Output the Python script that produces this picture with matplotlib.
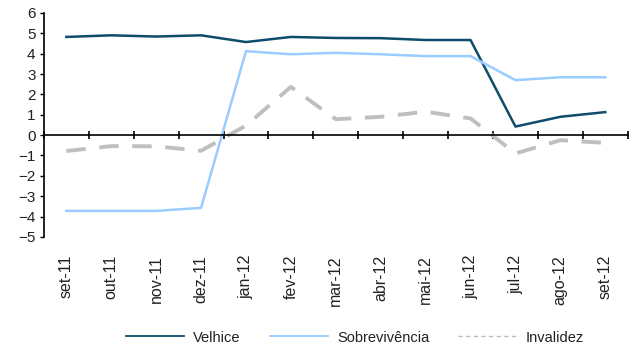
import matplotlib
matplotlib.use("Agg")
import matplotlib.pyplot as plt
import numpy as np

plt.rcParams['font.family'] = ['Liberation Sans', 'DejaVu Sans']

categories = ["set-11", "out-11", "nov-11", "dez-11", "jan-12", "fev-12", "mar-12",
              "abr-12", "mai-12", "jun-12", "jul-12", "ago-12", "set-12"]
velhice = [4.82, 4.90, 4.84, 4.90, 4.57, 4.82, 4.77, 4.76, 4.67, 4.67, 0.42, 0.90, 1.13]
sobrevivencia = [-3.72, -3.72, -3.72, -3.57, 4.12, 3.97, 4.04, 3.97, 3.88, 3.88, 2.70, 2.84, 2.84]
invalidez = [-0.78, -0.54, -0.55, -0.77, 0.47, 2.37, 0.78, 0.90, 1.15, 0.82, -0.90, -0.25, -0.38]

fig = plt.figure(figsize=(6.36, 3.49), dpi=100)
ax = fig.add_axes([0.069, 0.321, 0.918, 0.642])

x = np.arange(len(categories))
ax.plot(x, velhice, color='#0D4D6B', lw=1.8, label='Velhice')
ax.plot(x, sobrevivencia, color='#99CCFF', lw=1.8, label='Sobrevivência')
ax.plot(x, invalidez, color='#BFBFBF', lw=2.8, dashes=(5, 3.5), label='Invalidez')

ax.set_xlim(-0.5, len(categories) - 0.5)
ax.set_ylim(-5, 6)
ax.set_yticks(range(-5, 7))
ax.tick_params(axis='y', direction='out', length=3, width=1, labelsize=11, pad=3,
               colors='black', labelcolor='#222222')

for s in ['top', 'right']:
    ax.spines[s].set_visible(False)
ax.spines['bottom'].set_position(('data', 0))
ax.spines['left'].set_linewidth(1.2)
ax.spines['bottom'].set_linewidth(1.2)
ax.set_xticks(np.arange(len(categories) + 1) - 0.5)
ax.set_xticklabels([])
ax.tick_params(axis='x', direction='inout', length=6, width=1.2)

sec = ax.secondary_xaxis(0)
sec.set_xticks(x)
sec.set_xticklabels(categories, rotation=90, fontsize=11.5, color='#222222')
sec.tick_params(length=0, pad=13)
sec.spines['bottom'].set_visible(False)

leg = fig.legend(loc='lower center', bbox_to_anchor=(0.558, -0.025), ncol=3, frameon=False,
                 fontsize=10.5, handlelength=4.0, columnspacing=2.0, handletextpad=0.6)
for t in leg.get_texts():
    t.set_color('#222222')
lines = leg.get_lines()
for ln in lines:
    ln.set_linewidth(1.3)
lines[2].set_dashes((3, 2.5))
lines[2].set_linewidth(1.0)

fig.savefig('out.png', dpi=100)
